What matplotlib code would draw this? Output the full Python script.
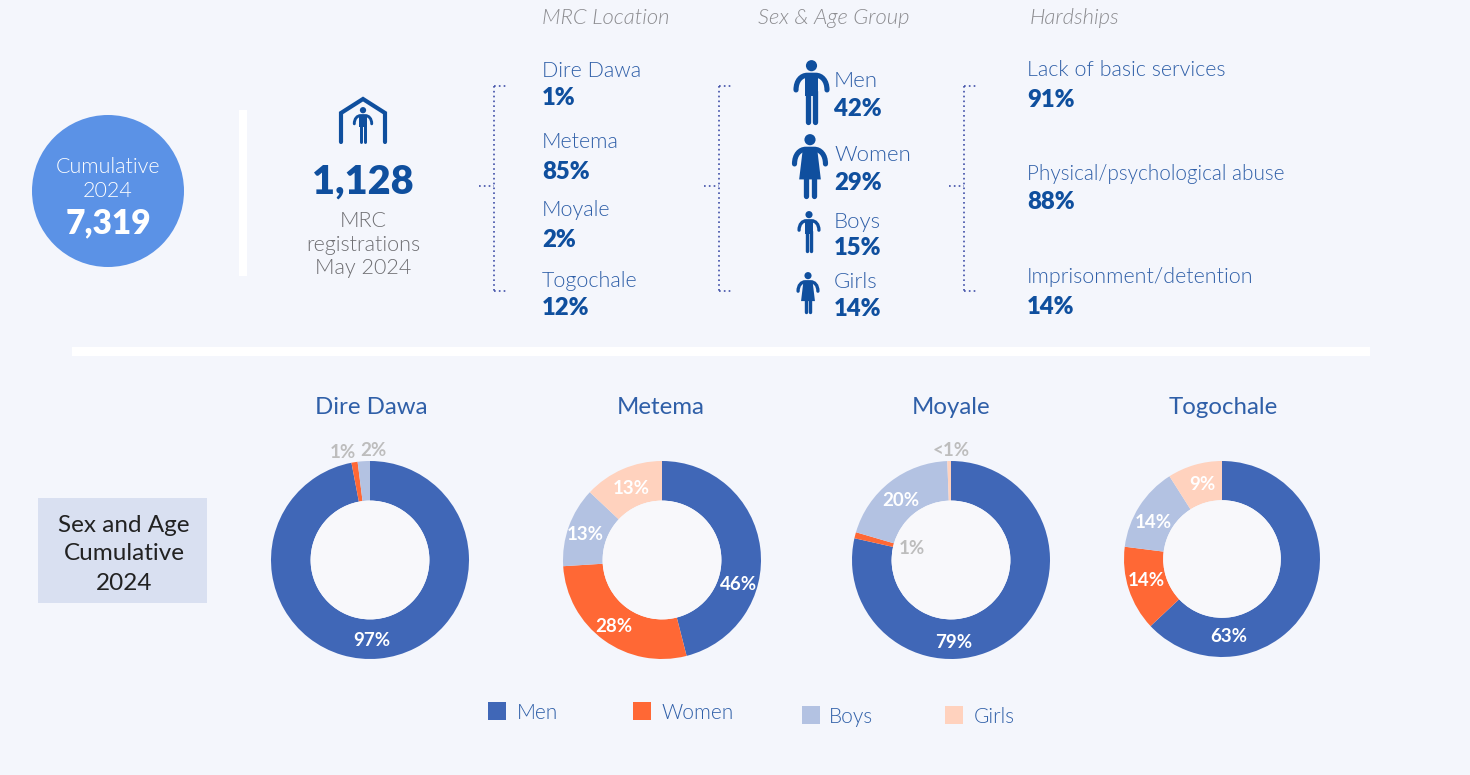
import matplotlib
matplotlib.use("Agg")
import matplotlib.pyplot as plt
from matplotlib.patches import Circle, Rectangle, Polygon, PathPatch
from matplotlib.path import Path

# ---- data ----
sites = ["Dire Dawa", "Metema", "Moyale", "Togochale"]
groups = ["Men", "Women", "Boys", "Girls"]
dire_dawa = [97, 1, 2, 0]
metema = [46, 28, 13, 13]
moyale = [79, 1, 20, 0.6]
togochale = [63, 14, 14, 9]
location_pct = ["1%", "85%", "2%", "12%"]
group_pct = ["42%", "29%", "15%", "14%"]
hardships = ["Lack of basic services", "Physical/psychological abuse", "Imprisonment/detention"]
hardship_pct = ["91%", "88%", "14%"]
headers = ["MRC Location", "Sex & Age Group", "Hardships"]

BG = "#F4F6FC"
NAVY = "#0F4F9E"
LBLUE = "#2F5FA8"
GREY = "#6E6E72"
HGREY = "#8C8C90"
colors = ["#4067B7", "#FF6835", "#B3C2E2", "#FFD2BE"]
DOT = "#3F4FA8"

plt.rcParams["font.family"] = ["Lato", "DejaVu Sans"]
W, H = 1470, 775
fig = plt.figure(figsize=(W / 100, H / 100), dpi=100, facecolor=BG)
bg = fig.add_axes([0, 0, 1, 1], zorder=1)
bg.set_xlim(0, W); bg.set_ylim(H, 0); bg.axis("off")
ov = fig.add_axes([0, 0, 1, 1], zorder=5)
ov.set_xlim(0, W); ov.set_ylim(H, 0); ov.axis("off"); ov.patch.set_alpha(0)

def T(x, y, s, size=15.5, color=LBLUE, weight=300, ha="left", style="normal"):
    ov.text(x, y + 4, s, fontsize=size, color=color, fontweight=weight, ha=ha, va="center", fontstyle=style)

# left block
bg.add_patch(Circle((108, 191), 76, color="#5B92E6", lw=0))
T(108, 163, "Cumulative", 15.5, "white", ha="center")
T(108, 187, "2024", 15.5, "white", ha="center")
T(108, 219, "7,319", 24, "white", 800, ha="center")
bg.add_patch(Rectangle((239, 110), 8, 166, color="white", lw=0))
bg.add_patch(Rectangle((72, 347), 1298, 9, color="white", lw=0))
T(363, 178, "1,128", 28.5, NAVY, 800, ha="center")
T(363, 217, "MRC", 15.5, GREY, ha="center")
T(363, 241, "registrations", 15.5, GREY, ha="center")
T(363, 264, "May 2024", 15.5, GREY, ha="center")

# people icons
def person(cx, top, h, skirt=False):
    s = h / 62.0
    c = NAVY
    bg.add_patch(Circle((cx, top + 5.5 * s), 5.4 * s, color=c, lw=0))
    ya = top + 14.8 * s
    verts = [(cx - 15 * s, top + 29 * s), (cx - 15 * s, top + 20 * s), (cx - 10 * s, ya), (cx - 4 * s, ya),
             (cx + 4 * s, ya), (cx + 10 * s, ya), (cx + 15 * s, top + 20 * s), (cx + 15 * s, top + 29 * s)]
    codes = [Path.MOVETO, Path.CURVE4, Path.CURVE4, Path.CURVE4, Path.LINETO, Path.CURVE4, Path.CURVE4, Path.CURVE4]
    bg.add_patch(PathPatch(Path(verts, codes), fc="none", ec=c, lw=3.6 * s, capstyle="round"))
    if skirt:
        bg.add_patch(Polygon([(cx - 7 * s, ya), (cx + 7 * s, ya), (cx + 10.5 * s, top + 44 * s),
                              (cx - 10.5 * s, top + 44 * s)], color=c, lw=0))
    else:
        bg.add_patch(Rectangle((cx - 6.3 * s, ya), 12.6 * s, 20 * s, color=c, lw=0))
    for dx in (-3.6, 3.6):
        bg.plot([cx + dx * s, cx + dx * s], [top + 30 * s, top + 60.5 * s], color=c,
                lw=3.7 * s, solid_capstyle="round")

# shelter icon
bg.plot([341, 341, 363, 385, 385], [142, 113, 99, 113, 142], color=NAVY, lw=3.0,
        solid_capstyle="round", solid_joinstyle="miter")
person(363, 107, 36)

person(811.5, 60, 64)
person(810, 134, 64, True)
person(809, 211, 41)
person(808, 272, 41, True)

# dotted brackets
def bracket(x):
    kw = dict(color=DOT, lw=1.2, ls=(0, (1, 1.9)))
    bg.plot([x, x], [86, 291], **kw)
    bg.plot([x, x + 12], [86, 86], **kw)
    bg.plot([x, x + 12], [291, 291], **kw)
    bg.plot([x - 15, x], [186, 186], **kw)
for bx in (494, 719, 964):
    bracket(bx)

# headers
for hx, h in zip((542, 758, 1030), headers):
    T(hx, 14, h, 15.8, HGREY, style="italic")

# MRC location list
for name, pct, yn, yp in zip(sites, location_pct, (67, 138, 206, 277), (94, 168, 236, 304)):
    T(542, yn, name, 15.5)
    T(542, yp, pct, 17.2, NAVY, 800)

# Sex & age list
for name, pct, yn, yp in zip(groups, group_pct, (77, 151, 218, 278), (105, 179, 244, 305)):
    T(834, yn, name, 16)
    T(834, yp, pct, 17.2, NAVY, 800)

# Hardships
for name, pct, yn, yp, fs in zip(hardships, hardship_pct, (66, 170, 273), (96, 198, 303), (15.5, 14.9, 15.5)):
    T(1027, yn, name, fs)
    T(1027, yp, pct, 17.2, NAVY, 800)

# side box
bg.add_patch(Rectangle((38, 498), 169, 105, color="#D9E0F1", lw=0))
for ty, s in zip((522, 550, 579), ("Sex and Age", "Cumulative", "2024")):
    T(124, ty, s, 17.5, "#222222", 400, ha="center")

# donuts
centers = [(370, 560, 99), (662, 560, 99), (951, 560, 99), (1222, 559, 98)]
title_x = [371, 660.5, 951, 1223]
series = [dire_dawa, metema, moyale, togochale]
for (cx, cy, R), vals, name, tx in zip(centers, series, sites, title_x):
    ax = fig.add_axes([(cx - R) / W, 1 - (cy + R) / H, 2 * R / W, 2 * R / H], zorder=3)
    ax.pie(vals, colors=colors, startangle=90, counterclock=False, radius=1,
           wedgeprops=dict(width=0.4, edgecolor="none", linewidth=0))
    ax.add_patch(Circle((0, 0), 0.6, color="#F8F8FB", lw=0))
    ax.set_xlim(-1, 1); ax.set_ylim(-1, 1)
    T(tx, 403, name, 17.3, LBLUE, 400, ha="center")

LAB = "#BDBDBD"
labels = [
    (343, 449, "1%", LAB), (373, 447, "2%", LAB), (372, 637, "97%", "white"),
    (739, 580, "46%", "white"), (614, 623, "28%", "white"), (585, 531, "13%", "white"), (631, 485, "13%", "white"),
    (951, 447, "<1%", LAB), (912, 544, "1%", LAB), (901, 497, "20%", "white"), (954, 638, "79%", "white"),
    (1153, 518, "14%", "white"), (1146, 577, "14%", "white"), (1202, 481, "9%", "white"), (1229, 633, "63%", "white"),
]
for x, y, s, c in labels:
    T(x, y, s, 13.5, c, "bold", ha="center")

# legend
for (lx, ly, tx), g, c in zip([(488, 702, 517), (633, 702, 662), (802, 706, 829), (945, 706, 974)], groups, colors):
    bg.add_patch(Rectangle((lx, ly), 18, 18, color=c, lw=0))
    T(tx, ly + 7, g, 15, LBLUE)

fig.savefig("out.png", dpi=100, facecolor=BG)
